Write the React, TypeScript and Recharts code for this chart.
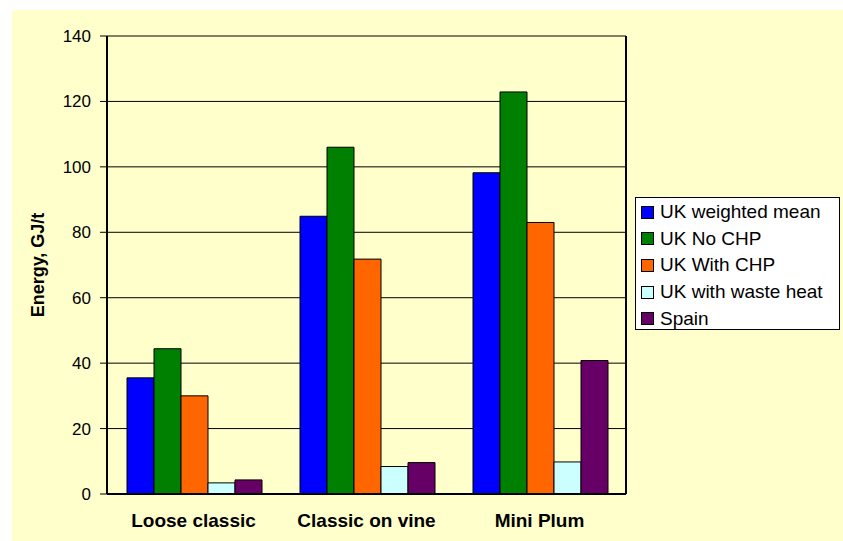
import React from 'react';
import { BarChart, Bar, XAxis, YAxis, CartesianGrid, Legend } from 'recharts';

const categories = ['Loose classic', 'Classic on vine', 'Mini Plum'];
const ukWeightedMean = [35.5, 84.9, 98.2];
const ukNoChp = [44.4, 106.0, 122.9];
const ukWithChp = [30.0, 71.8, 83.0];
const ukWasteHeat = [3.4, 8.4, 9.8];
const spain = [4.3, 9.6, 40.8];
const yTicks = [0, 20, 40, 60, 80, 100, 120, 140];
const boundaryTicks = [0, 1, 2, 3];

const seriesInfo = [
  { key: 'ukWeightedMean', name: 'UK weighted mean', color: '#0000FF' },
  { key: 'ukNoChp', name: 'UK No CHP', color: '#008000' },
  { key: 'ukWithChp', name: 'UK With CHP', color: '#FF6600' },
  { key: 'ukWasteHeat', name: 'UK with waste heat', color: '#CCFFFF' },
  { key: 'spain', name: 'Spain', color: '#660066' },
];

const data = categories.map((c, i) => ({
  category: c,
  ukWeightedMean: ukWeightedMean[i],
  ukNoChp: ukNoChp[i],
  ukWithChp: ukWithChp[i],
  ukWasteHeat: ukWasteHeat[i],
  spain: spain[i],
}));

const FONT = '"Liberation Sans", Arial, Helvetica, sans-serif';

const LegendContent = () => (
  <div style={{ fontFamily: FONT, fontSize: 19, color: '#000', paddingTop: 1, textAlign: 'left' }}>
    {seriesInfo.map((s) => (
      <div key={s.key} style={{ display: 'flex', alignItems: 'center', height: 26.6 }}>
        <div
          style={{
            width: 11,
            height: 11,
            background: s.color,
            border: '1px solid #000',
            marginLeft: 5,
            marginRight: 6,
            flexShrink: 0,
          }}
        />
        <span style={{ whiteSpace: 'nowrap' }}>{s.name}</span>
      </div>
    ))}
  </div>
);

const YTitle = (props: any) => {
  const vb = props.viewBox || { x: 0, y: 0, width: 0, height: 0 };
  const cx = vb.x + 38;
  const cy = vb.y + vb.height / 2;
  return (
    <text
      x={cx}
      y={cy}
      transform={`rotate(-90 ${cx} ${cy})`}
      textAnchor="middle"
      dominantBaseline="central"
      fontFamily={FONT}
      fontWeight="bold"
      fontSize={18}
      fill="#000"
    >
      Energy, GJ/t
    </text>
  );
};

export default function App() {
  return (
    <div style={{ position: 'absolute', left: 0, top: 0, width: 843, height: 541, background: '#fff' }}>
      <div style={{ position: 'absolute', left: 12, top: 10, width: 831, height: 531, background: '#FFFFCC' }} />
      <div style={{ position: 'absolute', left: 0, top: 0 }}>
        <BarChart
          width={843}
          height={541}
          data={data}
          margin={{ top: 36, right: 0, bottom: 0, left: 0 }}
          barCategoryGap={20}
          barGap={0}
        >
          <CartesianGrid horizontal={true} vertical={false} stroke="#000" strokeWidth={1} />
          <XAxis
            xAxisId="bounds"
            type="number"
            domain={[0, 3]}
            ticks={boundaryTicks}
            allowDataOverflow
            height={0}
            axisLine={false}
            tickLine={{ stroke: '#000', strokeWidth: 1 }}
            tickSize={6}
            tickFormatter={() => ''}
          />
          <XAxis
            dataKey="category"
            height={47}
            interval={0}
            axisLine={{ stroke: '#000', strokeWidth: 2 }}
            tickLine={false}
            tickSize={0}
            tickMargin={20}
            tick={{ fontFamily: FONT, fontWeight: 'bold', fontSize: 19, fill: '#000' }}
          />
          <YAxis
            domain={[0, 140]}
            ticks={yTicks}
            width={107}
            axisLine={{ stroke: '#000', strokeWidth: 2 }}
            tickLine={{ stroke: '#000', strokeWidth: 1 }}
            tickSize={7}
            tickMargin={9}
            tick={{ fontFamily: FONT, fontSize: 17, fill: '#000' }}
            label={{ content: YTitle }}
          />
          <YAxis
            yAxisId="right"
            orientation="right"
            domain={[0, 140]}
            width={217}
            axisLine={{ stroke: '#000', strokeWidth: 2 }}
            tickLine={false}
            tick={false}
          />
          <Legend
            layout="horizontal"
            align="center"
            verticalAlign="middle"
            content={<LegendContent />}
            wrapperStyle={{
              position: 'absolute',
              left: 635,
              top: 197,
              width: 205,
              height: 133,
              border: '1px solid #000',
              background: '#fff',
              boxSizing: 'border-box',
            }}
          />
          {seriesInfo.map((s) => (
            <Bar
              key={s.key}
              dataKey={s.key}
              name={s.name}
              fill={s.color}
              stroke="#000"
              strokeWidth={1}
              isAnimationActive={false}
            />
          ))}
        </BarChart>
      </div>
    </div>
  );
}
